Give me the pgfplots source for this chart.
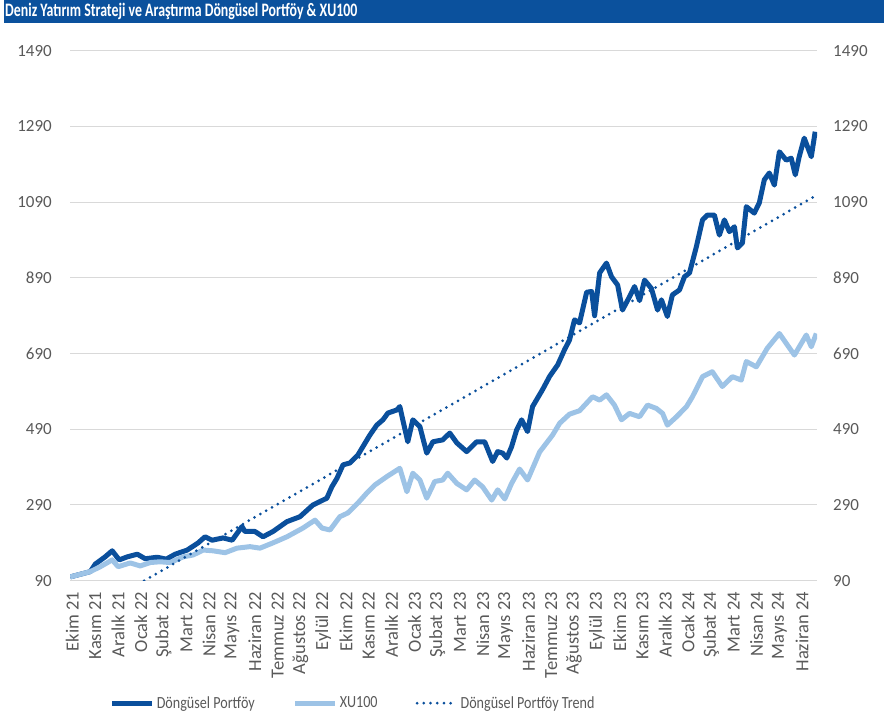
\documentclass[border=0pt]{standalone}
\usepackage{pgfplots}
\pgfplotsset{compat=1.18}
\usepackage{fontspec}
\setmainfont{Carlito}
\definecolor{dblue}{HTML}{0A4F9C}
\definecolor{lblue}{HTML}{9DC3E6}
\definecolor{tblue}{HTML}{0B519D}
\definecolor{gridc}{HTML}{D9D9D9}
\definecolor{txt}{HTML}{595959}
\newcommand{\legtxt}[1]{\scalebox{0.83}[1]{#1}}
\begin{document}
\begin{tikzpicture}[x=1pt,y=1pt]
\path[use as bounding box] (0,0) rectangle (884,-718);
\fill[tblue] (4,0) rectangle (884,-23);
\node[anchor=west, text=white, inner sep=0pt] at (5,-11.5) {\scalebox{0.73}[1]{\fontsize{19}{19}\selectfont\bfseries Deniz Yatırım Strateji ve Araştırma Döngüsel Portföy \& XU100}};
\begin{axis}[at={(70pt,-580.7pt)}, anchor=south west, width=747pt, height=530pt, scale only axis,
 xmin=-0.1, xmax=32.65, ymin=90, ymax=1490,
 ytick={90,290,...,1490},
 xtick={0,...,32},
 xticklabels={Ekim 21,Kasım 21,Aralık 21,Ocak 22,Şubat 22,Mart 22,Nisan 22,Mayıs 22,Haziran 22,Temmuz 22,Ağustos 22,Eylül 22,Ekim 22,Kasım 22,Aralık 22,Ocak 23,Şubat 23,Mart 23,Nisan 23,Mayıs 23,Haziran 23,Temmuz 23,Ağustos 23,Eylül 23,Ekim 23,Kasım 23,Aralık 23,Ocak 24,Şubat 24,Mart 24,Nisan 24,Mayıs 24,Haziran 24},
 x tick label style={rotate=90, anchor=east, font=\fontsize{18.5}{18.5}\selectfont, text=txt, inner sep=0pt},
 y tick label style={font=\fontsize{17}{17}\selectfont, text=txt, inner sep=0pt},
 xticklabel shift=11pt, yticklabel shift=18pt,
 major tick length=0pt,
 ymajorgrids, grid style={gridc, line width=1pt},
 axis line style={draw=none}, tick style={draw=none},
 /pgf/number format/assume math mode=true,
 /pgf/number format/1000 sep={},
 legend columns=3,
 legend style={draw=none, fill=none, anchor=west, at={(0.053,-0.231)}, font=\fontsize{17}{17}\selectfont, text=txt, inner sep=0pt, /tikz/every even column/.append style={column sep=36pt}},
 legend image code/.code={\draw[#1] (0pt,0pt) -- (40pt,0pt);},
]
\addplot[dblue, line width=5pt, line join=round] coordinates {
(-0.09,100) (0.79,114) (1.01,134) (1.44,153) (1.75,169) (2.06,145) (2.41,153) (2.85,160) (3.20,148) (3.72,152) (4.12,147) (4.51,160) (5.04,171) (5.52,190) (5.82,206) (6.13,197) (6.61,203) (7.01,197) (7.44,233) (7.57,220) (8.01,220) (8.36,206) (8.80,220) (9.41,246) (9.98,259) (10.55,290) (11.16,308) (11.38,338) (11.60,360) (11.87,396) (12.17,401) (12.52,422) (12.74,444) (13.05,475) (13.35,501) (13.62,515) (13.84,533) (14.23,541) (14.36,550) (14.49,515) (14.71,457) (14.93,515) (15.24,497) (15.54,427) (15.81,457) (16.24,462) (16.55,480) (16.86,454) (17.29,431) (17.73,457) (18.08,457) (18.43,405) (18.65,431) (18.87,427) (19.05,414) (19.26,444) (19.48,488) (19.70,515) (19.96,484) (20.18,550) (20.62,595) (20.93,630) (21.28,660) (21.58,700) (21.80,726) (22.02,779) (22.24,771) (22.55,852) (22.77,854) (22.90,790) (23.12,903) (23.42,929) (23.64,893) (23.91,871) (24.12,805) (24.43,840) (24.65,867) (24.87,830) (25.09,884) (25.39,862) (25.66,805) (25.83,832) (26.09,788) (26.31,845) (26.62,858) (26.84,893) (27.06,903) (27.36,972) (27.63,1043) (27.85,1056) (28.15,1056) (28.37,1003) (28.59,1043) (28.81,1012) (29.03,1025) (29.16,969) (29.38,982) (29.55,1078) (29.90,1061) (30.12,1088) (30.34,1149) (30.56,1167) (30.78,1135) (31.00,1223) (31.30,1201) (31.52,1206) (31.70,1162) (31.87,1210) (32.09,1259) (32.40,1210) (32.57,1276)
};
\addlegendentry{\legtxt{Döngüsel Portföy}}
\addplot[lblue, line width=5pt, line join=round] coordinates {
(-0.09,100) (0.79,114) (1.23,127) (1.75,145) (2.01,127) (2.54,137) (2.98,129) (3.42,138) (3.85,140) (4.29,138) (4.86,153) (5.30,158) (5.74,171) (6.17,169) (6.70,164) (7.22,176) (7.79,180) (8.23,176) (8.80,190) (9.41,206) (10.11,229) (10.64,250) (10.95,229) (11.30,224) (11.73,259) (12.08,269) (12.52,295) (12.92,322) (13.27,343) (13.79,365) (14.36,387) (14.67,325) (14.93,374) (15.24,356) (15.54,308) (15.89,352) (16.24,356) (16.46,374) (16.86,347) (17.29,330) (17.64,356) (17.99,338) (18.39,303) (18.65,330) (18.96,306) (19.26,347) (19.61,385) (19.96,356) (20.49,430) (21.06,475) (21.37,506) (21.80,530) (22.24,539) (22.81,576) (23.12,567) (23.42,581) (23.77,554) (24.08,515) (24.43,532) (24.87,523) (25.22,554) (25.61,545) (25.88,532) (26.09,501) (26.49,523) (26.93,550) (27.19,576) (27.63,629) (28.06,642) (28.50,603) (28.94,629) (29.33,620) (29.55,669) (29.99,655) (30.47,704) (31.00,743) (31.30,717) (31.66,686) (32.18,739) (32.40,708) (32.62,743)
};
\addlegendentry{\legtxt{XU100}}
\addplot[dblue, line width=3pt, line cap=round, dash pattern=on 0pt off 6.7pt] coordinates {(3.15,90) (32.57,1106)};
\addlegendentry{\legtxt{Döngüsel Portföy Trend}}
\end{axis}
\begin{axis}[at={(70pt,-580.7pt)}, anchor=south west, width=747pt, height=530pt, scale only axis,
 xmin=-0.1, xmax=32.65, ymin=90, ymax=1490,
 ytick={90,290,...,1490}, hide x axis, yticklabel pos=right,
 y tick label style={font=\fontsize{17}{17}\selectfont, text=txt, inner sep=0pt, anchor=west},
 yticklabel shift=16pt, major tick length=0pt,
 axis line style={draw=none}, tick style={draw=none},
 /pgf/number format/assume math mode=true,
 /pgf/number format/1000 sep={},
]
\end{axis}
\end{tikzpicture}
\end{document}
